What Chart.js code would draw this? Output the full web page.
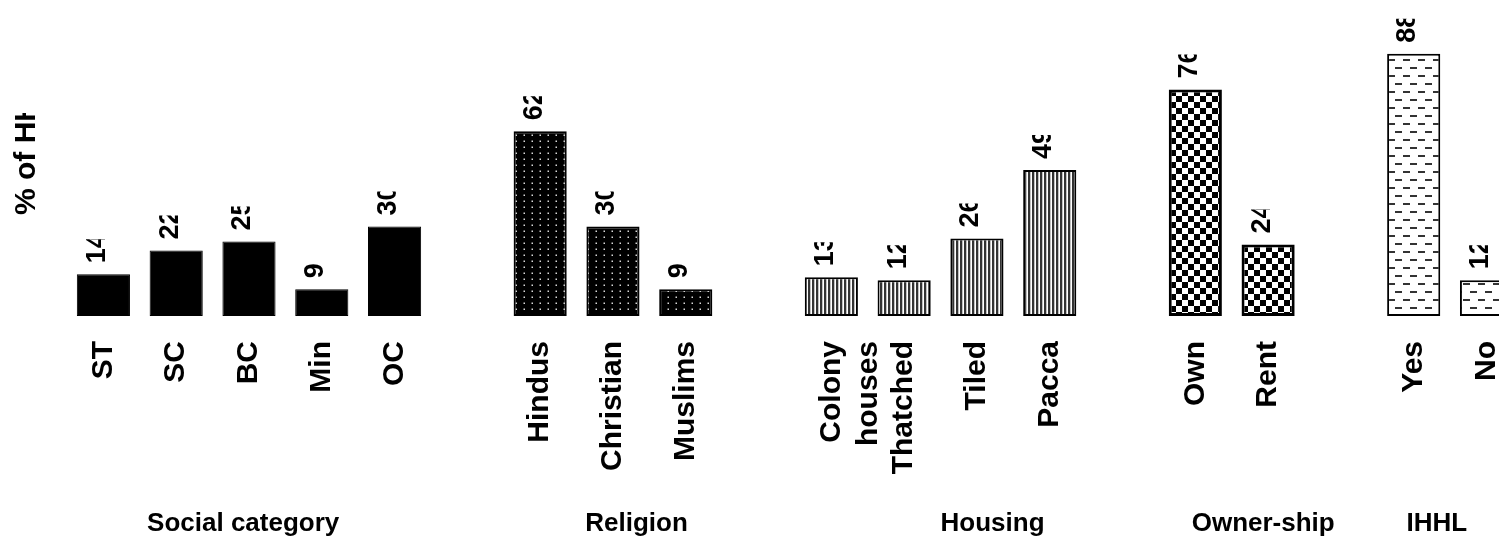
<!DOCTYPE html>
<html>
<head>
<meta charset="utf-8">
<script src="https://cdn.jsdelivr.net/npm/chart.js@4.4.1/dist/chart.umd.min.js"></script>
<style>
  html, body { margin: 0; padding: 0; background: #fff; overflow: hidden; }
  canvas { display: block; }
</style>
</head>
<body>
<canvas id="hhChart" width="1541" height="540"></canvas>
<script>
// values (% of households)
var socialLabels = ['ST', 'SC', 'BC', 'Min', 'OC'];
var socialValues = [14, 22, 25, 9, 30];
var religionLabels = ['Hindus', 'Christian', 'Muslims'];
var religionValues = [62, 30, 9];
var housingLabels = [['Colony', 'houses'], 'Thatched', 'Tiled', 'Pacca'];
var housingValues = [13, 12, 26, 49];
var ownerLabels = ['Own', 'Rent'];
var ownerValues = [76, 24];
var ihhlLabels = ['Yes', 'No'];
var ihhlValues = [88, 12];
var groupTitles = ['Social category', 'Religion', 'Housing', 'Owner-ship', 'IHHL'];
var yTitle = '% of HH';

// where each group title starts, in category units
var titleAnchors = [0.6, 6.62, 11.5, 14.95, 17.9];

var FONT = "'Liberation Sans', Arial, sans-serif";
var canvas = document.getElementById('hhChart');
var ctx = canvas.getContext('2d');

function makePattern(w, h, draw) {
  var c = document.createElement('canvas');
  c.width = w; c.height = h;
  var g = c.getContext('2d');
  draw(g, w, h);
  return ctx.createPattern(c, 'repeat');
}

var dotFill = makePattern(8, 6, function(g, w, h) {
  g.fillStyle = '#000'; g.fillRect(0, 0, w, h);
  g.fillStyle = '#d8d8d8'; g.fillRect(3.5, 2.5, 1.5, 1.5);
});
var stripeFill = makePattern(4, 4, function(g, w, h) {
  g.fillStyle = '#fff'; g.fillRect(0, 0, w, h);
  g.fillStyle = '#333'; g.fillRect(0, 0, 2.3, h);
});
var checkFill = makePattern(12, 12, function(g, w, h) {
  g.fillStyle = '#fff'; g.fillRect(0, 0, w, h);
  g.fillStyle = '#000'; g.fillRect(0, 0, 6, 6); g.fillRect(6, 6, 6, 6);
});
var dashFill = makePattern(15, 16, function(g, w, h) {
  g.fillStyle = '#fff'; g.fillRect(0, 0, w, h);
  g.fillStyle = '#333'; g.fillRect(0, 3, 7, 2); g.fillRect(8, 11, 7, 2);
});

var groups = [
  { labels: socialLabels, values: socialValues, fill: '#000', border: 1 },
  { labels: religionLabels, values: religionValues, fill: dotFill, border: 2 },
  { labels: housingLabels, values: housingValues, fill: stripeFill, border: 2 },
  { labels: ownerLabels, values: ownerValues, fill: checkFill, border: 3 },
  { labels: ihhlLabels, values: ihhlValues, fill: dashFill, border: 2 }
];

// one empty category between groups
var labels = [], values = [], fills = [], borders = [];
groups.forEach(function(grp, gi) {
  if (gi > 0) { labels.push(''); values.push(null); fills.push('#fff'); borders.push(0); }
  grp.labels.forEach(function(l, i) {
    labels.push(l);
    values.push(grp.values[i]);
    fills.push(grp.fill);
    borders.push(grp.border);
  });
});

var valueLabels = {
  id: 'valueLabels',
  afterDatasetsDraw: function(chart) {
    var c = chart.ctx;
    var meta = chart.getDatasetMeta(0);
    c.save();
    c.fillStyle = '#000';
    c.font = 'bold 27px ' + FONT;
    c.textAlign = 'left';
    c.textBaseline = 'middle';
    meta.data.forEach(function(bar, i) {
      var v = values[i];
      if (v === null) return;
      c.save();
      c.translate(bar.x - 6, bar.y - 11);
      c.rotate(-Math.PI / 2);
      c.beginPath();
      c.rect(-2, -18, 26, 36);
      c.clip();
      c.fillText(String(v), 0, 0);
      c.restore();
    });
    c.restore();
  }
};

var titlesPlugin = {
  id: 'groupTitles',
  afterDraw: function(chart) {
    var c = chart.ctx;
    var xs = chart.scales.x;
    c.save();
    c.fillStyle = '#000';
    c.font = 'bold 26px ' + FONT;
    c.textAlign = 'left';
    c.textBaseline = 'middle';
    groupTitles.forEach(function(t, i) {
      c.fillText(t, xs.getPixelForValue(titleAnchors[i]), 524);
    });
    // y axis title, cut off at the top as in the picture
    c.translate(27, 215);
    c.rotate(-Math.PI / 2);
    c.beginPath();
    c.rect(0, -20, 102, 40);
    c.clip();
    c.font = 'bold 30px ' + FONT;
    c.fillText(yTitle, 0, 0);
    c.restore();
  }
};

new Chart(ctx, {
  type: 'bar',
  data: {
    labels: labels,
    datasets: [{
      data: values,
      backgroundColor: fills,
      borderColor: '#000',
      borderWidth: borders,
      borderSkipped: false,
      barPercentage: 0.73,
      categoryPercentage: 1
    }]
  },
  options: {
    responsive: false,
    animation: false,
    devicePixelRatio: 1,
    layout: { padding: { left: 67, right: 0, top: 18, bottom: 0 } },
    plugins: { legend: { display: false }, tooltip: { enabled: false } },
    scales: {
      x: {
        grid: { display: false },
        border: { display: false },
        ticks: {
          autoSkip: false,
          minRotation: 90,
          maxRotation: 90,
          padding: 17,
          color: '#000',
          font: { family: FONT, size: 30, weight: 'bold', lineHeight: 1.25 }
        },
        afterFit: function(scale) { scale.height = 224; }
      },
      y: {
        display: false,
        min: 0,
        max: 100
      }
    }
  },
  plugins: [valueLabels, titlesPlugin]
});
</script>
</body>
</html>
